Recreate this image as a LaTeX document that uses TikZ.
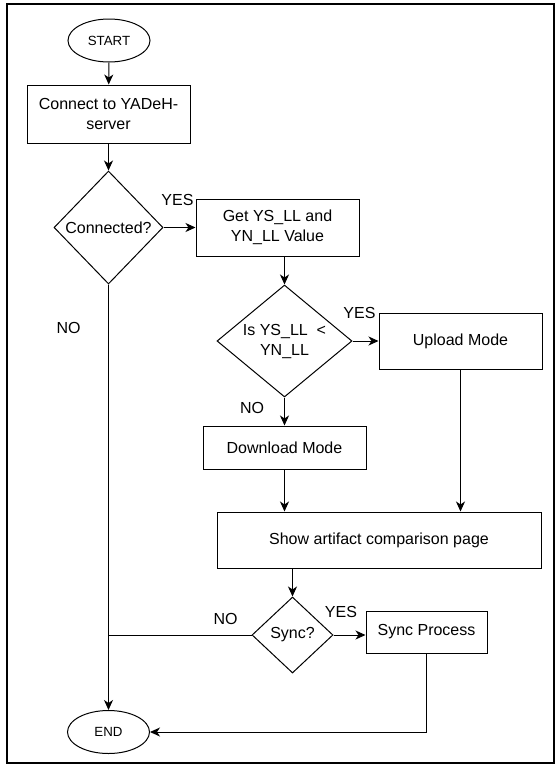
\documentclass[tikz,border=0pt]{standalone}
\usepackage{fontspec}
\setmainfont{Liberation Sans}
\usetikzlibrary{shapes.geometric,arrows.meta}
\begin{document}
\begin{tikzpicture}[x=1pt,y=-1pt,
  every node/.style={font=\fontsize{16}{20}\selectfont},
  box/.style={draw, line width=1pt, rectangle, inner sep=0pt, align=center},
  dia/.style={draw, line width=1pt, diamond, inner sep=0pt},
  term/.style={draw, line width=1pt, ellipse, minimum width=82pt, minimum height=43pt, inner sep=0pt, font=\fontsize{13.3}{16}\selectfont},
  arr/.style={line width=1pt, -{Stealth[length=10pt,width=9pt,inset=3pt]}},
  ln/.style={line width=1pt},
  lbl/.style={inner sep=0pt}
]
\useasboundingbox (0,0) rectangle (556,764);
\draw[line width=2pt] (7,4) rectangle (554,763);

\node[term] (start) at (109,40.5) {START};
\node[box, minimum width=163pt, minimum height=58pt] (conn) at (108.5,114) {Connect to YADeH-\\server};
\node[dia, minimum width=109pt, minimum height=113pt, label={center:Connected?}] (q1) at (108.5,227.5) {};
\node[box, minimum width=163pt, minimum height=57pt] (get) at (277.5,227.5) {Get YS\_LL and\\YN\_LL Value};
\node[dia, minimum width=135pt, minimum height=112pt, label={[align=center]center:Is YS\_LL~~<\\YN\_LL}] (q2) at (284.5,341) {};
\node[box, minimum width=163pt, minimum height=56pt] (up) at (460.5,341) {Upload Mode};
\node[box, minimum width=163pt, minimum height=43pt] (dl) at (284.5,447.5) {Download Mode};
\node[box, minimum width=324pt, minimum height=56pt] (show) at (379,540) {Show artifact comparison page};
\node[dia, minimum width=81pt, minimum height=76pt, label={center:Sync?}] (sync) at (292.5,635) {};
\node[box, minimum width=121pt, minimum height=42pt] (sp) at (426.5,632) {Sync Process};
\node[term] (end) at (108.5,732) {END};

\node[lbl] (yes1) at (177.5,200) {YES};
\node[lbl] (no1) at (68.5,328) {NO};
\node[lbl] (yes2) at (359.5,313) {YES};
\node[lbl] (no2) at (252,408) {NO};
\node[lbl] (no3) at (225.5,619) {NO};
\node[lbl] (yes3) at (341,612) {YES};

\draw[arr] (start) -- (conn);
\draw[arr] (conn) -- (q1);
\draw[arr] (q1.east) -- (get.west);
\draw[arr] (q2.north |- get.south) -- (q2.north);
\draw[arr] (q2.east) -- (up.west);
\draw[arr] (q2.south) -- (dl.north);
\draw[arr] (dl.south) -- (dl.south |- show.north);
\draw[arr] (up.south) -- (up.south |- show.north);
\draw[arr] (sync.north |- show.south) -- (sync.north);
\draw[arr] (sync.east) -- (sync.east -| sp.west);
\draw[arr] (sp.south) -- (sp.south |- end.east) -- (end.east);
\draw[arr] (q1.south) -- (end.north);
\draw[ln] (sync.west) -- (sync.west -| q1.south);
\end{tikzpicture}
\end{document}
